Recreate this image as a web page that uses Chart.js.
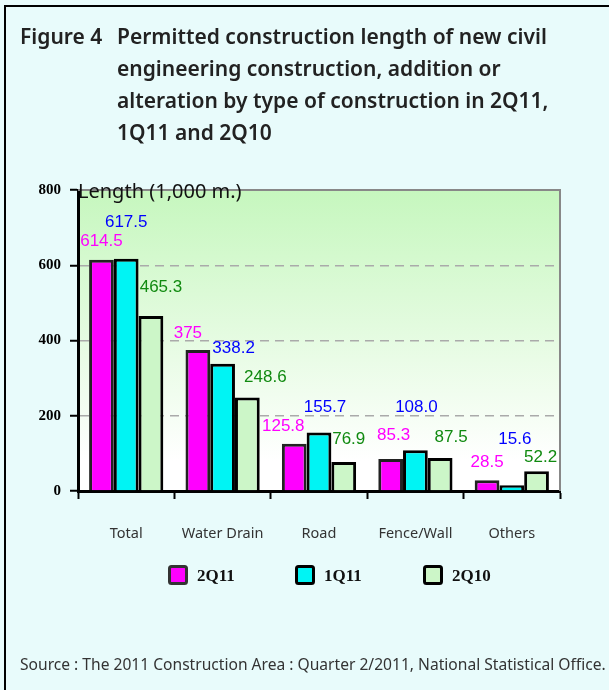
<!DOCTYPE html>
<html>
<head>
<meta charset="utf-8">
<script src="https://cdn.jsdelivr.net/npm/chart.js@4/dist/chart.umd.min.js"></script>
<style>
  html, body { margin: 0; padding: 0; }
  body {
    width: 609px; height: 690px; position: relative; overflow: hidden;
    background-color: #e8fbfb;
    font-family: "Noto Sans", sans-serif;
  }
  #frame {
    position: absolute; left: 4px; top: 5px; right: -10px; bottom: -10px;
    border-left: 2px solid #000; border-top: 2px solid #000;
  }
  #chart { position: absolute; left: 0; top: 0; }
  #title {
    position: absolute; left: 20px; top: 20px; display: flex;
    font-size: 21px; font-weight: 600; color: #222; line-height: 32px;
  }
  #title .fig { width: 97px; }
  #source {
    position: absolute; left: 20px; top: 653px;
    font-size: 15.6px; color: #333; white-space: nowrap;
  }
</style>
</head>
<body>
<div id="frame"></div>
<canvas id="chart" width="609" height="690"></canvas>
<div id="title">
  <div class="fig">Figure 4</div>
  <div>Permitted construction length of new civil<br>engineering construction, addition or<br>alteration by type of construction in 2Q11,<br>1Q11 and 2Q10</div>
</div>
<div id="source">Source : The 2011 Construction Area : Quarter 2/2011, National Statistical Office.</div>
<script>
var categories = ["Total", "Water Drain", "Road", "Fence/Wall", "Others"];
var q2_2011 = [614.5, 375, 125.8, 85.3, 28.5];
var q1_2011 = [617.5, 338.2, 155.7, 108.0, 15.6];
var q2_2010 = [465.3, 248.6, 76.9, 87.5, 52.2];
var seriesNames = ["2Q11", "1Q11", "2Q10"];
var labelText = [
  ["614.5", "375", "125.8", "85.3", "28.5"],
  ["617.5", "338.2", "155.7", "108.0", "15.6"],
  ["465.3", "248.6", "76.9", "87.5", "52.2"]
];

// where each value label sits relative to the top centre of its bar (dragged by hand in the original)
var labelShift = [
  [[0, -18], [-10, -17], [-11, -17], [3, -24], [0, -18]],
  [[0, -36], [11, -15], [6, -25], [1, -43], [3, -46]],
  [[10, -29], [18, -20], [5, -23], [11, -21], [4, -14]]
];
var labelColors = ["#ff00ff", "#0000ff", "#108a10"];

var plotBackground = {
  id: "plotBackground",
  beforeDraw: function (chart) {
    var a = chart.chartArea, ctx = chart.ctx;
    var g = ctx.createLinearGradient(0, a.top, 0, a.bottom);
    g.addColorStop(0, "#c6f7be");
    g.addColorStop(0.9, "#ffffff");
    g.addColorStop(1, "#ffffff");
    ctx.save();
    ctx.fillStyle = g;
    ctx.fillRect(a.left, a.top, a.right - a.left, a.bottom - a.top);
    ctx.restore();
  },
  beforeDatasetsDraw: function (chart) {
    var a = chart.chartArea, ctx = chart.ctx;
    ctx.save();
    ctx.strokeStyle = "#888";
    ctx.lineWidth = 2;
    ctx.beginPath();
    ctx.moveTo(a.left, a.top);
    ctx.lineTo(a.right, a.top);
    ctx.lineTo(a.right, a.bottom);
    ctx.stroke();
    ctx.restore();
  }
};

var extras = {
  id: "extras",
  afterDraw: function (chart) {
    var ctx = chart.ctx, a = chart.chartArea;
    ctx.save();
    // value labels
    ctx.font = "17px 'Liberation Sans', Arial, sans-serif";
    ctx.textAlign = "center";
    ctx.textBaseline = "middle";
    chart.data.datasets.forEach(function (ds, i) {
      chart.getDatasetMeta(i).data.forEach(function (bar, j) {
        ctx.fillStyle = labelColors[i];
        ctx.fillText(labelText[i][j], bar.x + labelShift[i][j][0], bar.y + labelShift[i][j][1]);
      });
    });
    // axis title
    ctx.textAlign = "left";
    ctx.fillStyle = "#111";
    ctx.font = "20px 'Noto Sans', sans-serif";
    ctx.fillText("Length (1,000 m.)", a.left, a.top + 2);
    // legend
    var lx = [168, 295, 423];
    ctx.font = "bold 17px 'Liberation Serif', 'Times New Roman', serif";
    chart.data.datasets.forEach(function (ds, i) {
      ctx.fillStyle = ds.backgroundColor;
      ctx.strokeStyle = i === 0 ? "#333" : "#000";
      ctx.lineWidth = 3;
      ctx.beginPath();
      ctx.roundRect(lx[i] + 1.5, 566.5, 17, 17, 2);
      ctx.fill();
      ctx.stroke();
      ctx.fillStyle = "#111";
      ctx.fillText(ds.label, lx[i] + 29, 577);
    });
    ctx.restore();
  }
};

new Chart(document.getElementById("chart"), {
  type: "bar",
  data: {
    labels: categories,
    datasets: [
      { label: seriesNames[0], data: q2_2011, backgroundColor: "#ff00ff", borderColor: "#222" },
      { label: seriesNames[1], data: q1_2011, backgroundColor: "#00f4f4", borderColor: "#000" },
      { label: seriesNames[2], data: q2_2010, backgroundColor: "#ccf6c8", borderColor: "#000" }
    ]
  },
  options: {
    responsive: false,
    animation: false,
    events: [],
    layout: { padding: { top: 190, right: 49, left: 0, bottom: 0 } },
    datasets: {
      bar: { borderWidth: 3, borderSkipped: "bottom", categoryPercentage: 0.77, barPercentage: 1.0 }
    },
    plugins: {
      legend: { display: false },
      tooltip: { enabled: false }
    },
    scales: {
      x: {
        afterFit: function (s) { s.height = 199; },
        grid: {
          offset: true, drawOnChartArea: false, drawTicks: true,
          tickLength: 8, tickColor: "#000", tickWidth: 2
        },
        border: { color: "#000", width: 3 },
        ticks: { color: "#333", padding: 26, font: { family: "'Noto Sans', sans-serif", size: 14.5 } }
      },
      y: {
        min: 0, max: 800,
        afterFit: function (s) { s.width = 78; },
        grid: {
          color: function (c) { return (c.tick && (c.tick.value === 0 || c.tick.value === 800)) ? "rgba(0,0,0,0)" : "#aaa"; },
          lineWidth: 1.5,
          drawTicks: true, tickLength: 8, tickColor: "#000", tickWidth: 2
        },
        border: { color: "#000", width: 3, dash: [9, 6] },
        ticks: {
          stepSize: 200, color: "#000", padding: 9,
          font: { family: "'Liberation Serif', 'Times New Roman', serif", size: 15, weight: "bold" }
        }
      }
    }
  },
  plugins: [plotBackground, extras]
});
</script>
</body>
</html>
